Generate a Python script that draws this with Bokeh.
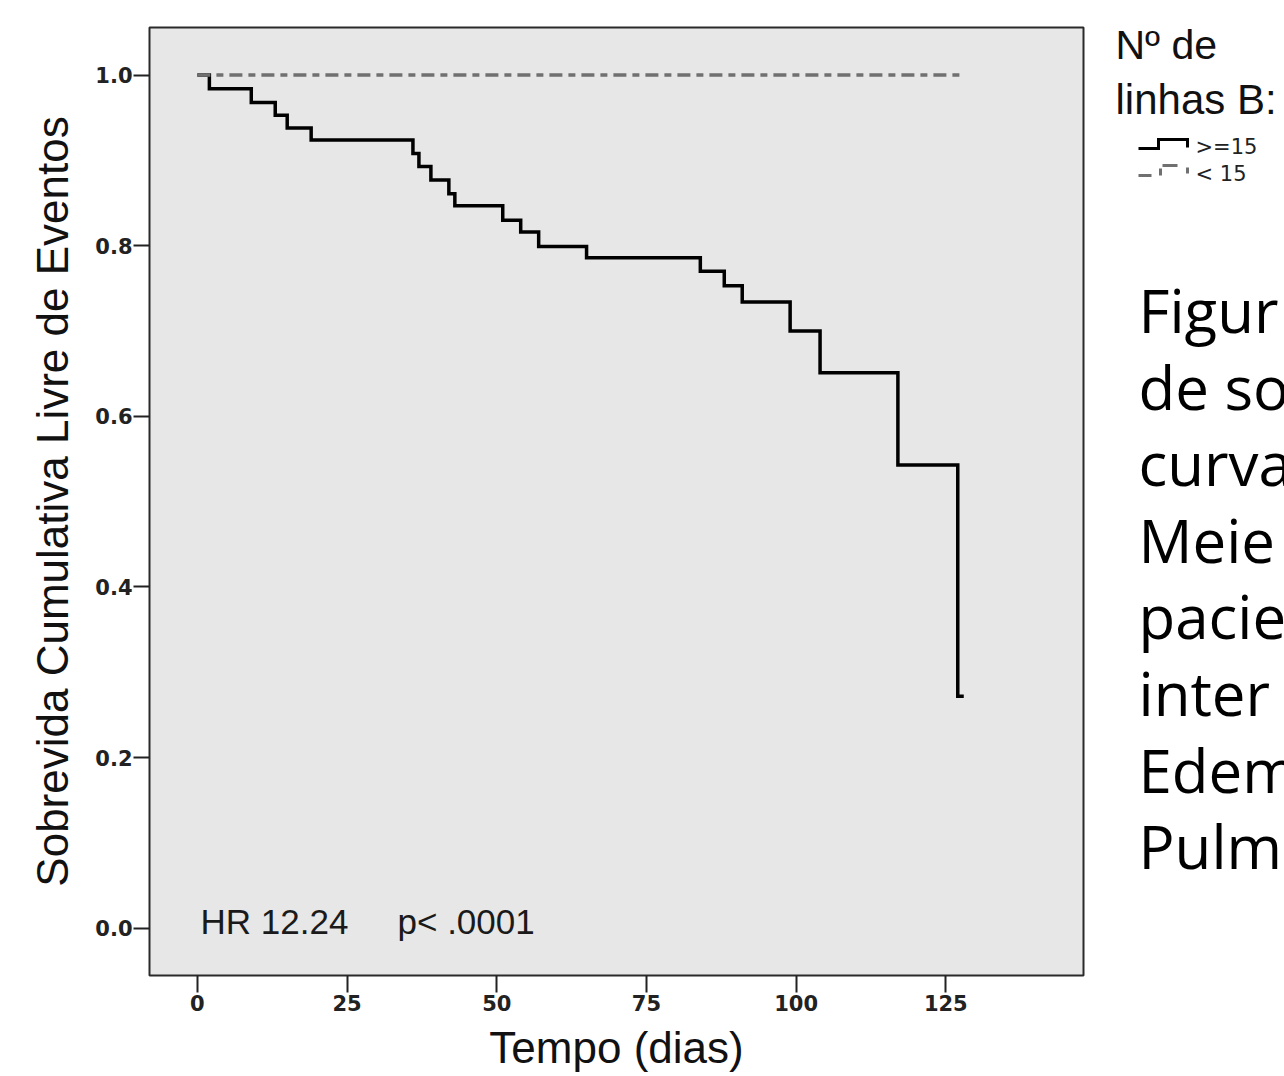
from bokeh.plotting import figure
from bokeh.layouts import row
from bokeh.models import Range1d, FixedTicker, Label, PrintfTickFormatter
from bokeh.embed import file_html
from bokeh.resources import INLINE

# ---- data ----
times_ge15 = [0, 2, 9, 13, 15, 19, 36, 37, 39, 42, 43, 51, 54, 57, 65, 84, 88, 91, 99, 104, 117, 127, 128]
surv_ge15 = [1.0, 0.984, 0.968, 0.953, 0.938, 0.924, 0.908, 0.893, 0.877, 0.861, 0.847, 0.830,
             0.816, 0.799, 0.786, 0.770, 0.753, 0.734, 0.700, 0.651, 0.543, 0.272, 0.272]
times_lt15 = [0, 128]
surv_lt15 = [1.0, 1.0]
x_ticks = [0, 25, 50, 75, 100, 125]
y_ticks = [0.0, 0.2, 0.4, 0.6, 0.8, 1.0]
series_labels = [">=15", "< 15"]
legend_title = ["Nº de", "linhas B:"]
stats_text = ["HR 12.24", "p< .0001"]
side_text = ["Figur", "de so", "curva", "Meie", "pacie", "inter", "Edem", "Pulm"]

# ---- layout ----
W_MAIN, W_SIDE, H = 1100, 184, 1076
FL, FT, FW, FH = 149, 27, 934, 948
X0, X1 = -8, 148
Y0, Y1 = -0.0554, 1.0558

def dx(px):
    return X0 + (px - FL) / FW * (X1 - X0)

def dy(py):
    return Y1 - (py - FT) / FH * (Y1 - Y0)

def base(py, fs):
    # Bokeh places the "alphabetic" baseline ~0.33em below the anchor
    return py - 0.33 * fs

p = figure(width=W_MAIN, height=H, output_backend="svg", toolbar_location=None,
           x_range=Range1d(X0, X1), y_range=Range1d(Y0, Y1),
           min_border_left=FL, min_border_top=FT,
           min_border_right=W_MAIN - FL - FW, min_border_bottom=H - FT - FH)
p.background_fill_color = "#e6e7e6"
p.border_fill_color = "white"
p.outline_line_color = "#2a2a2a"
p.outline_line_width = 2
p.grid.visible = False

for ax in (p.xaxis, p.yaxis):
    ax.axis_line_color = None
    ax.major_tick_line_color = "#222222"
    ax.major_tick_line_width = 2
    ax.major_tick_in = 0
    ax.minor_tick_line_color = None
    ax.major_label_text_font = "DejaVu Sans"
    ax.major_label_text_font_style = "bold"
    ax.major_label_text_color = "#222222"

p.xaxis.ticker = FixedTicker(ticks=x_ticks)
p.xaxis.major_tick_out = 17
p.xaxis.major_label_standoff = 2
p.xaxis.major_label_text_font_size = "21px"
p.xaxis.axis_label = "Tempo (dias)"
p.xaxis.axis_label_text_font = "Liberation Sans"
p.xaxis.axis_label_text_font_style = "normal"
p.xaxis.axis_label_text_font_size = "44px"
p.xaxis.axis_label_text_color = "#111111"
p.xaxis.axis_label_standoff = 9

p.yaxis.ticker = FixedTicker(ticks=y_ticks)
p.yaxis.formatter = PrintfTickFormatter(format="%.1f")
p.yaxis.major_tick_out = 16
p.yaxis.major_label_standoff = 1
p.yaxis.major_label_text_font_size = "21px"
p.yaxis.axis_label = "Sobrevida Cumulativa Livre de Eventos"
p.yaxis.axis_label_text_font = "Liberation Sans"
p.yaxis.axis_label_text_font_style = "normal"
p.yaxis.axis_label_text_font_size = "44px"
p.yaxis.axis_label_text_color = "#111111"
p.yaxis.axis_label_standoff = 15

# ---- curves ----
p.step(times_ge15, surv_ge15, mode="after", line_color="black", line_width=3.5,
       line_join="miter")
p.step(times_lt15, surv_lt15, mode="after", line_color="#707070", line_width=3.5,
       line_dash="13 6 7 6")

# ---- in-plot stats ----
p.add_layout(Label(x=dx(200), y=dy(base(933, 35)), text=stats_text[0], text_font="Liberation Sans",
                   text_font_size="35px", text_color="#1a1a1a", text_baseline="alphabetic"))
p.add_layout(Label(x=dx(397), y=dy(base(933, 35)), text=stats_text[1], text_font="Liberation Sans",
                   text_font_size="35px", text_color="#1a1a1a", text_baseline="alphabetic"))

# ---- side panel: legend + caption (frame aligned with the main frame; coords = page px) ----
s = figure(width=W_SIDE, height=H, output_backend="svg", toolbar_location=None,
           x_range=Range1d(W_MAIN, W_MAIN + W_SIDE), y_range=Range1d(FT + FH, FT),
           min_border_left=0, min_border_right=0, min_border_top=FT,
           min_border_bottom=H - FT - FH, x_axis_location=None, y_axis_location=None)
s.outline_line_color = None
s.grid.visible = False
s.background_fill_color = "white"
s.border_fill_color = "white"

s.add_layout(Label(x=1115, y=base(58, 41), text=legend_title[0], text_font="Liberation Sans",
                   text_font_size="41px", text_color="#111111", text_baseline="alphabetic"))
s.add_layout(Label(x=1115, y=base(113, 42), text=legend_title[1], text_font="Liberation Sans",
                   text_font_size="42px", text_color="#111111", text_baseline="alphabetic"))

s.multi_line(xs=[[1138, 1158, 1158, 1187, 1187]], ys=[[148, 148, 139, 139, 147]],
             line_color="black", line_width=3, line_join="miter")
s.multi_line(xs=[[1138, 1151], [1160, 1160], [1162, 1177], [1187, 1187]],
             ys=[[175, 175], [168, 175], [165, 165], [167, 173]],
             line_color="#707070", line_width=3)

s.add_layout(Label(x=1195, y=base(153, 21), text=series_labels[0], text_font="DejaVu Sans",
                   text_font_size="21px", text_color="#222222", text_baseline="alphabetic"))
s.add_layout(Label(x=1195, y=base(180, 21), text=series_labels[1], text_font="DejaVu Sans",
                   text_font_size="21px", text_color="#222222", text_baseline="alphabetic"))

for i, t in enumerate(side_text):
    s.add_layout(Label(x=1138, y=base(329.3 + 76.6 * i, 60), text=t, text_font="Open Sans",
                       text_font_size="60px", text_color="#000000", text_baseline="alphabetic"))

layout = row(p, s, spacing=0)
open("out.html", "w").write(file_html(layout, INLINE))
